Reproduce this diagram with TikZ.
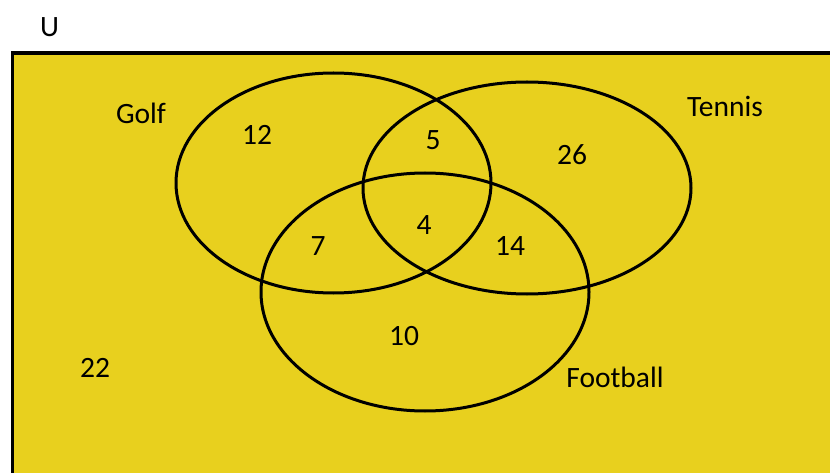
\documentclass[tikz,border=0pt]{standalone}
\usepackage{fontspec}
\setmainfont{Carlito}
\definecolor{venny}{RGB}{232,208,30}
\tikzset{
  setring/.style={draw=black, line width=3pt},
  lab/.style={font=\fontsize{29.5}{31}\selectfont, inner sep=0pt, text=black},
}
\begin{document}
\begin{tikzpicture}[x=1pt,y=-1pt]
\useasboundingbox (0,0) rectangle (830,473);
\begin{scope}
\clip (0,0) rectangle (830,473);
\draw[fill=venny, line width=3.5pt] (12.5,53) rectangle (845,490);
\end{scope}
\draw[setring] (333.5,183) ellipse [x radius=157.5, y radius=110];
\draw[setring] (527,188) ellipse [x radius=164, y radius=106];
\draw[setring] (425,292) ellipse [x radius=164, y radius=119];
\node[lab] (u) at (49.5,27) {U};
\node[lab] (golf) at (141,113) {Golf};
\node[lab] (tennis) at (725,106) {Tennis};
\node[lab] (football) at (615,377) {Football};
\node[lab] (g) at (257,135) {12};
\node[lab] (gt) at (433,140) {5};
\node[lab] (t) at (572,155) {26};
\node[lab] (gtf) at (424,225) {4};
\node[lab] (gf) at (318,246) {7};
\node[lab] (tf) at (510,246) {14};
\node[lab] (f) at (404,336) {10};
\node[lab] (out) at (95,368) {22};
\end{tikzpicture}
\end{document}
